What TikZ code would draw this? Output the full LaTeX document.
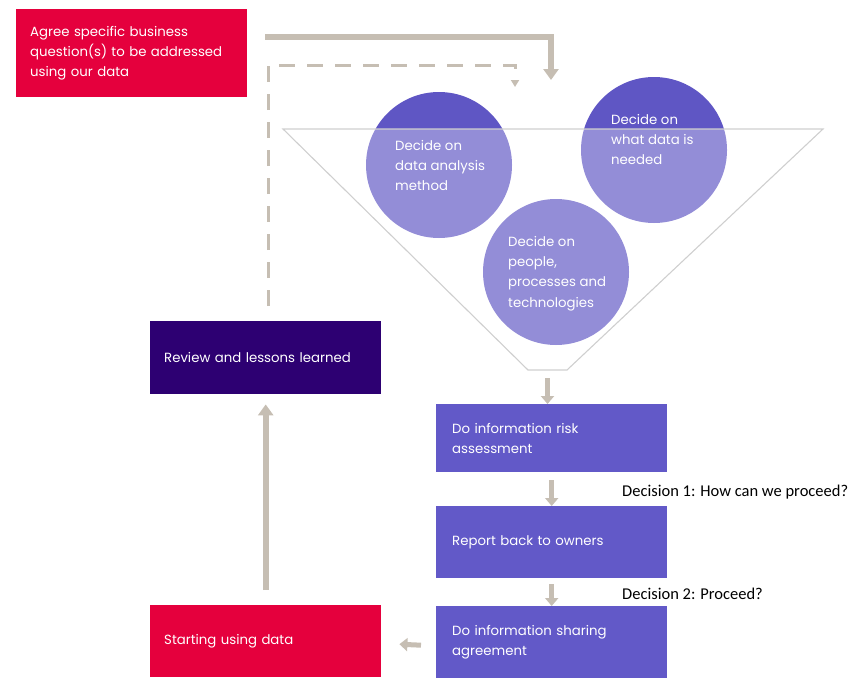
\documentclass[tikz,border=0pt]{standalone}
\usepackage{fontspec}
\setmainfont{Poppins}
\newfontfamily\decfont{Carlito}
\usetikzlibrary{arrows.meta,calc}
\definecolor{redbox}{HTML}{E5003D}
\definecolor{darkpurple}{HTML}{2D0072}
\definecolor{midpurple}{HTML}{6259C8}
\definecolor{circlecol}{HTML}{5F56C4}
\definecolor{arrowgray}{HTML}{C6BEB3}
\definecolor{funnelgray}{HTML}{CFCFCF}
\tikzset{
  boxstyle/.style={rectangle, anchor=north west, inner xsep=14pt, inner ysep=0pt, align=left,
     text=white, font=\fontsize{13.3}{19.8}\selectfont},
  rightbox/.style={boxstyle, fill=midpurple, minimum width=231pt, text width=199pt, inner xsep=16pt},
  circstyle/.style={circle, fill=circlecol, minimum size=146pt, inner sep=0pt},
  circtext/.style={anchor=north west, align=left, text=white, font=\fontsize{13.3}{20.3}\selectfont, inner sep=0pt},
  thickarrow/.style={arrowgray, line width=6pt, -{Triangle[width=15pt,length=11pt]}},
  shortarrow/.style={arrowgray, line width=5pt, -{Triangle[width=13pt,length=8pt]}},
  dasharrow/.style={arrowgray, line width=3pt, dash pattern=on 16pt off 12pt, -{Triangle[width=8pt,length=7pt]}},
  decision/.style={anchor=west, font=\decfont\fontsize{16.5}{18}\selectfont, text=black, inner sep=0pt}
}
\begin{document}
\begin{tikzpicture}[x=1pt,y=-1pt]
\useasboundingbox (0,0) rectangle (850,677);
% top box
\node[boxstyle, fill=redbox, minimum width=231pt, minimum height=88pt, text width=203pt] (agree) at (16,9)
  {Agree specific business\\question(s) to be addressed\\using our data};
% circles
\node[circstyle] (c1) at (439,165) {};
\node[circstyle] (c2) at (654,150) {};
\node[circstyle] (c3) at (556,272) {};
% funnel overlay
\coordinate (ftl) at (283,129);
\coordinate (ftr) at (823,129);
\coordinate (fbr) at (567,370);
\coordinate (fbl) at (528,370);
\fill[white, opacity=0.33] (ftl) -- (ftr) -- (fbr) -- (fbl) -- cycle;
\draw[funnelgray, line width=1.1pt] (ftl) -- (ftr) -- (fbr) -- (fbl) -- cycle;
\coordinate (fbot) at ($(fbl)!0.5!(fbr)$);
% circle texts
\node[circtext] (t1) at (395,140) {Decide on\\data analysis\\method};
\node[circtext] (t2) at (611,114) {Decide on\\what data is\\needed};
\node[circtext] (t3) at (508,236) {Decide on\\people,\\processes and\\technologies};
% left boxes
\node[boxstyle, fill=darkpurple, minimum width=231pt, minimum height=73pt, text width=203pt] (review) at (150,321)
  {Review and lessons learned};
\node[boxstyle, fill=redbox, minimum width=231pt, minimum height=72pt, text width=203pt] (start) at (150,605)
  {Starting using data};
% right boxes
\node[rightbox, minimum height=68pt] (risk) at (436,404)
  {Do information risk\\assessment};
\node[rightbox, minimum height=72pt] (report) at (436,506)
  {Report back to owners};
\node[rightbox, minimum height=72pt] (share) at (436,606)
  {Do information sharing\\agreement};
% decision labels
\node[decision] (d1) at (622,492) {Decision 1: How can we proceed?};
\node[decision] (d2) at (622,594) {Decision 2: Proceed?};
% connectors
\coordinate (s1) at (265,37);
\coordinate (s2) at (551,37);
\coordinate (s3) at (551,80);
\draw[thickarrow] (s1) -- (s2) -- (s3);
\coordinate (ds) at (268,306);
\coordinate (d1c) at (268,65);
\coordinate (d2c) at (515,65);
\coordinate (d3c) at (515,87);
\draw[dasharrow] (ds) -- (d1c) -- (d2c) -- (d3c);
\draw[shortarrow] ($(fbot)+(0,8)$) -- (risk.north -| fbot);
\draw[shortarrow] ($(risk.south)+(0,8)$) -- (report.north);
\draw[shortarrow] ($(report.south)+(0,6)$) -- (share.north);
\draw[thickarrow] ($(start.north)+(-0,-15)$) -- ($(review.south)+(0,10)$);
\draw[shortarrow] ($(share.west)+(-15,3)$) -- ($(start.east)+(18,3)$);
\end{tikzpicture}
\end{document}
